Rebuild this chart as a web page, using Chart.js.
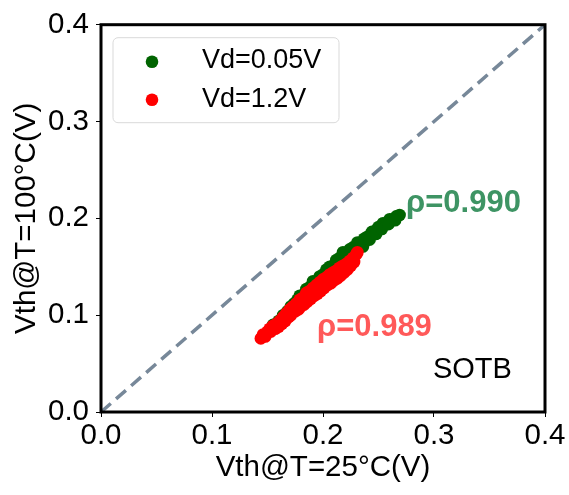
<!DOCTYPE html>
<html>
<head>
<meta charset="utf-8">
<script src="https://cdn.jsdelivr.net/npm/chart.js@4.4.1/dist/chart.umd.min.js"></script>
<style>
  html, body { margin: 0; padding: 0; background: #fff; }
  #wrap { position: relative; width: 569px; height: 495px; }
</style>
</head>
<body>
<div id="wrap"><canvas id="chart"></canvas></div>
<script>
/* Tick values (V) */
var xTicks = [0.0, 0.1, 0.2, 0.3, 0.4];
var yTicks = [0.0, 0.1, 0.2, 0.3, 0.4];

/* Vd = 0.05V : Vth at 25°C (x) vs Vth at 100°C (y) */
var lowVdX = [0.155, 0.160, 0.164, 0.168, 0.171, 0.174, 0.177, 0.179, 0.182, 0.185,
              0.188, 0.191, 0.194, 0.197, 0.200, 0.203, 0.206, 0.209, 0.212, 0.215,
              0.218, 0.221, 0.224, 0.227, 0.231, 0.234, 0.237, 0.240, 0.244, 0.247,
              0.250, 0.254, 0.257, 0.260, 0.263, 0.266, 0.269,
              0.230, 0.236, 0.242, 0.248, 0.253, 0.259, 0.265];
var lowVdY = [0.090, 0.094, 0.100, 0.104, 0.109, 0.112, 0.116, 0.120, 0.121, 0.127,
              0.129, 0.135, 0.134, 0.140, 0.142, 0.147, 0.150, 0.151, 0.157, 0.159,
              0.165, 0.164, 0.168, 0.170, 0.175, 0.174, 0.179, 0.181, 0.186, 0.187,
              0.191, 0.195, 0.195, 0.199, 0.199, 0.202, 0.2035,
              0.166, 0.171, 0.178, 0.184, 0.189, 0.194, 0.198];

/* Vd = 1.2V */
var highVdX = [0.144, 0.146, 0.148, 0.150, 0.152, 0.153, 0.155, 0.157, 0.158, 0.160,
               0.161, 0.163, 0.164, 0.166, 0.167, 0.169, 0.170, 0.171, 0.173, 0.175,
               0.176, 0.178, 0.179, 0.180, 0.182, 0.183, 0.185, 0.186, 0.188, 0.189,
               0.191, 0.192, 0.194, 0.195, 0.197, 0.198, 0.200, 0.201, 0.203, 0.204,
               0.206, 0.207, 0.209, 0.210, 0.212, 0.213, 0.215, 0.216, 0.218, 0.219,
               0.221, 0.222, 0.224, 0.225, 0.227, 0.228, 0.230, 0.231];
var highVdY = [0.076, 0.080, 0.078, 0.083, 0.086, 0.083, 0.089, 0.086, 0.091, 0.088,
               0.094, 0.091, 0.098, 0.094, 0.102, 0.098, 0.106, 0.100, 0.109, 0.104,
               0.112, 0.106, 0.116, 0.109, 0.118, 0.111, 0.123, 0.114, 0.125, 0.117,
               0.128, 0.120, 0.131, 0.122, 0.134, 0.125, 0.137, 0.128, 0.139, 0.131,
               0.142, 0.133, 0.144, 0.136, 0.146, 0.138, 0.149, 0.141, 0.151, 0.144,
               0.153, 0.147, 0.156, 0.151, 0.159, 0.155, 0.163, 0.165];

/* y = x reference line */
var refX = [0.0, 0.4];
var refY = [0.0, 0.4];

var seriesLabels = ['Vd=0.05V', 'Vd=1.2V'];
var rhoLabels = ['\u03c1=0.990', '\u03c1=0.989'];

var FONT = "'Liberation Sans', Arial, Helvetica, sans-serif";

function toPoints(xs, ys) {
  return xs.map(function(x, i) { return { x: x, y: ys[i] }; });
}

/* black box around the plot area */
var framePlugin = {
  id: 'frame',
  afterDatasetsDraw: function(chart) {
    var a = chart.chartArea, ctx = chart.ctx;
    ctx.save();
    ctx.strokeStyle = '#000';
    ctx.lineWidth = 3;
    ctx.strokeRect(a.left, a.top, a.right - a.left, a.bottom - a.top);
    ctx.restore();
  }
};

/* correlation notes + SOTB tag, anchored in data units */
var notesPlugin = {
  id: 'notes',
  afterDatasetsDraw: function(chart) {
    var ctx = chart.ctx, sx = chart.scales.x, sy = chart.scales.y;
    ctx.save();
    ctx.textBaseline = 'alphabetic';
    ctx.textAlign = 'left';
    ctx.font = 'bold 31px ' + FONT;
    ctx.fillStyle = 'rgba(46,139,87,0.92)';
    ctx.fillText(rhoLabels[0], sx.getPixelForValue(0.2748), sy.getPixelForValue(0.2065));
    ctx.fillStyle = 'rgba(255,60,60,0.85)';
    ctx.fillText(rhoLabels[1], sx.getPixelForValue(0.1946), sy.getPixelForValue(0.0783));
    ctx.font = '29px ' + FONT;
    ctx.fillStyle = '#000';
    ctx.fillText('SOTB', sx.getPixelForValue(0.299), sy.getPixelForValue(0.0356));
    ctx.restore();
  }
};

/* legend box in the upper-left corner of the plot */
var legendPlugin = {
  id: 'insideLegend',
  afterDraw: function(chart) {
    var a = chart.chartArea, ctx = chart.ctx;
    var bx = a.left + 12, by = a.top + 13, bw = 226, bh = 85;
    ctx.save();
    ctx.beginPath();
    ctx.roundRect(bx, by, bw, bh, 5);
    ctx.fillStyle = 'rgba(255,255,255,0.8)';
    ctx.fill();
    ctx.strokeStyle = '#d9d9d9';
    ctx.lineWidth = 1;
    ctx.stroke();
    var rows = [{ dot: 24, text: 30 }, { dot: 62, text: 69 }];
    var sets = [chart.data.datasets[1], chart.data.datasets[2]];
    ctx.font = '27px ' + FONT;
    ctx.textBaseline = 'alphabetic';
    ctx.textAlign = 'left';
    sets.forEach(function(ds, i) {
      ctx.beginPath();
      ctx.arc(bx + 39, by + rows[i].dot, 6.3, 0, Math.PI * 2);
      ctx.fillStyle = ds.backgroundColor;
      ctx.fill();
      ctx.fillStyle = '#000';
      ctx.fillText(ds.label, bx + 89, by + rows[i].text);
    });
    ctx.restore();
  }
};

var tickFont = { family: FONT, size: 29.5 };

new Chart(document.getElementById('chart').getContext('2d'), {
  data: {
    datasets: [
      {
        type: 'line',
        label: 'y=x',
        data: toPoints(refX, refY),
        borderColor: '#778899',
        borderWidth: 3.5,
        borderDash: [13, 7],
        pointRadius: 0,
        fill: false,
        order: 2
      },
      {
        type: 'scatter',
        label: seriesLabels[0],
        data: toPoints(lowVdX, lowVdY),
        backgroundColor: '#006400',
        borderColor: '#006400',
        borderWidth: 0,
        pointRadius: 6.3,
        order: 1
      },
      {
        type: 'scatter',
        label: seriesLabels[1],
        data: toPoints(highVdX, highVdY),
        backgroundColor: '#ff0000',
        borderColor: '#ff0000',
        borderWidth: 0,
        pointRadius: 6.3,
        order: 0
      }
    ]
  },
  options: {
    responsive: true,
    maintainAspectRatio: false,
    animation: false,
    events: [],
    layout: { padding: { top: 19, right: 24, left: 0, bottom: 0 } },
    plugins: {
      legend: { display: false },
      tooltip: { enabled: false }
    },
    scales: {
      x: {
        type: 'linear',
        min: 0,
        max: 0.4,
        afterBuildTicks: function(s) { s.ticks = xTicks.map(function(v) { return { value: v }; }); },
        afterFit: function(s) { s.height = 83; },
        grid: { drawOnChartArea: false, drawTicks: true, tickLength: 5, color: '#000', lineWidth: 1 },
        border: { display: false },
        ticks: {
          color: '#000',
          font: tickFont,
          padding: 1,
          maxRotation: 0,
          autoSkip: false,
          callback: function(v) { return Number(v).toFixed(1); }
        },
        title: {
          display: true,
          text: 'Vth@T=25\u00b0C(V)',
          color: '#000',
          font: tickFont,
          padding: { top: 0, bottom: 9 }
        }
      },
      y: {
        type: 'linear',
        min: 0,
        max: 0.4,
        afterBuildTicks: function(s) { s.ticks = yTicks.map(function(v) { return { value: v }; }); },
        afterFit: function(s) { s.width = 101; },
        grid: { drawOnChartArea: false, drawTicks: true, tickLength: 5, color: '#000', lineWidth: 1 },
        border: { display: false },
        ticks: {
          color: '#000',
          font: tickFont,
          padding: 7,
          autoSkip: false,
          callback: function(v) { return Number(v).toFixed(1); }
        },
        title: {
          display: true,
          text: 'Vth@T=100\u00b0C(V)',
          color: '#000',
          font: tickFont,
          padding: { top: 9, bottom: 0 }
        }
      }
    }
  },
  plugins: [framePlugin, notesPlugin, legendPlugin]
});
</script>
</body>
</html>
